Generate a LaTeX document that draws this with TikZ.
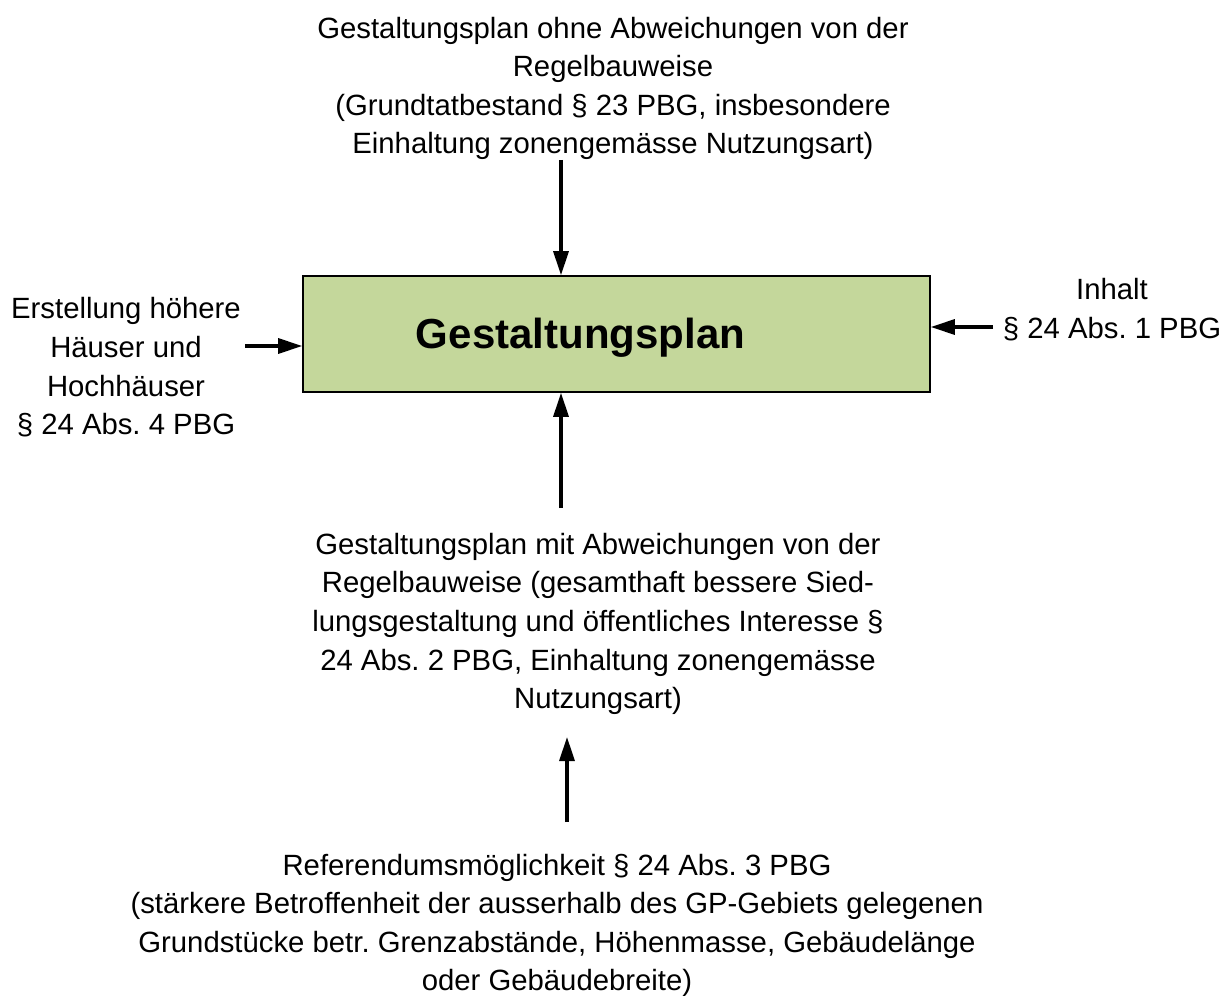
\documentclass[tikz,border=0pt]{standalone}
\usepackage{fontspec}
\setmainfont{Liberation Sans}
\frenchspacing
\usetikzlibrary{arrows.meta,calc}
\definecolor{planfill}{RGB}{196,215,155}
\tikzset{
  lbl/.style={align=center,inner sep=0pt,font=\fontsize{29.3}{38.6}\selectfont},
  arr/.style={line width=3.2pt,-{Triangle[length=24pt,width=15pt]}}
}

\begin{document}
\begin{tikzpicture}[x=1pt,y=-1pt]
  \useasboundingbox (0,0) rectangle (1222,995);
  \node[draw,line width=1.6pt,fill=planfill,minimum width=627pt,minimum height=116pt,inner sep=0pt] (plan) at (616.5,334) {};
  \node[font=\fontsize{42}{48}\selectfont\bfseries] (title) at (580.5,338) {Gestaltungsplan};
  \node[lbl] (top) at (613,88.5) {Gestaltungsplan ohne Abweichungen von der\\Regelbauweise\\(Grundtatbestand § 23 PBG, insbesondere\\Einhaltung zonengemässe Nutzungsart)};
  \node[lbl] (left) at (126,367.5) {Erstellung höhere\\Häuser und\\Hochhäuser\\§ 24 Abs. 4 PBG};
  \node[lbl] (right) at (1112,309.5) {Inhalt\\§ 24 Abs. 1 PBG};
  \node[lbl] (mid) at (598,624) {Gestaltungsplan mit Abweichungen von der\\Regelbauweise (gesamthaft bessere Sied-\\lungsgestaltung und öffentliches Interesse §\\24 Abs. 2 PBG, Einhaltung zonengemässe\\Nutzungsart)};
  \node[lbl] (bot) at (557,925.5) {Referendumsmöglichkeit § 24 Abs. 3 PBG\\(stärkere Betroffenheit der ausserhalb des GP-Gebiets gelegenen\\Grundstücke betr. Grenzabstände, Höhenmasse, Gebäudelänge\\oder Gebäudebreite)};
  \coordinate (topend) at (561,160);
  \coordinate (midend) at (561,508);
  \coordinate (botend) at (567,822);
  \coordinate (bottip) at (567,737);
  \coordinate (leftend) at (245,346);
  \coordinate (rightend) at (993,327);
  \draw[arr] (topend) -- (topend |- plan.north);
  \draw[arr] (midend) -- (midend |- plan.south);
  \draw[arr] (botend) -- (bottip);
  \draw[arr] (leftend) -- (leftend -| plan.west);
  \draw[arr] (rightend) -- (rightend -| plan.east);
\end{tikzpicture}
\end{document}
